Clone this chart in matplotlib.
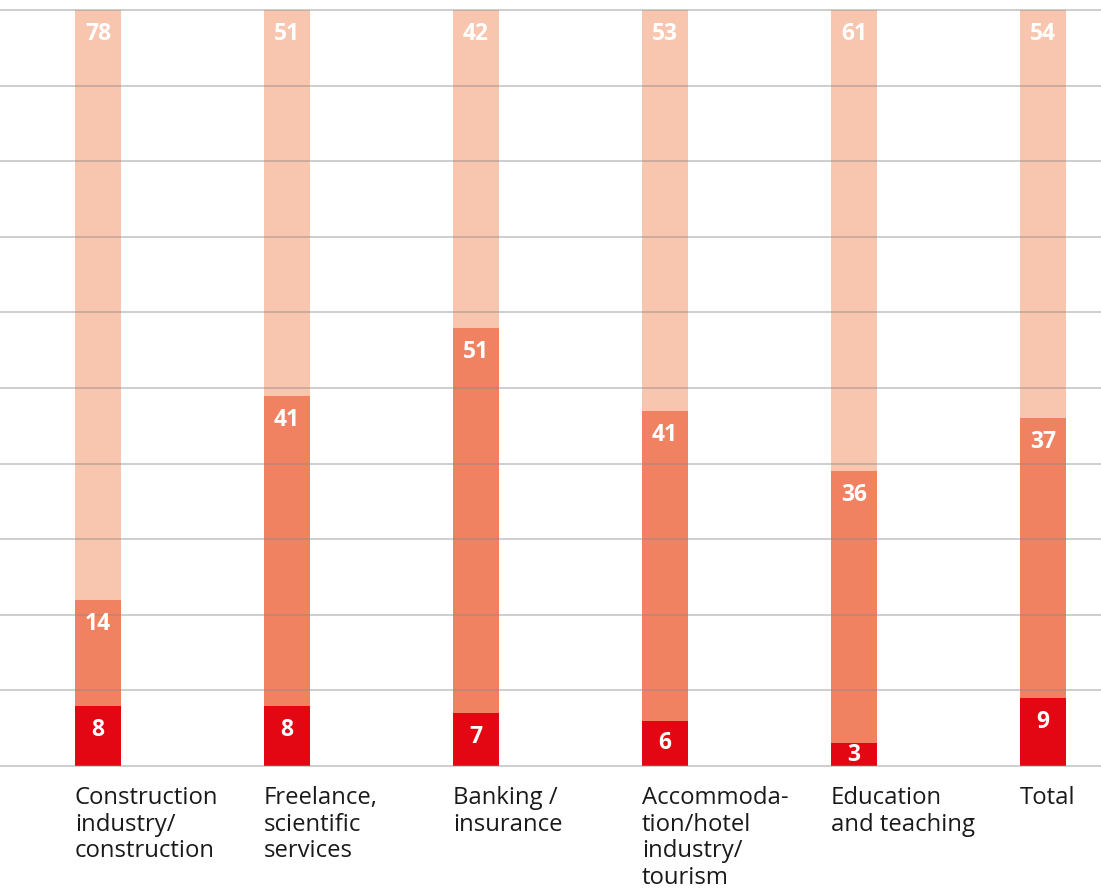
import matplotlib
matplotlib.use("Agg")
import matplotlib.pyplot as plt

categories = [
    "Construction\nindustry/\nconstruction",
    "Freelance,\nscientific\nservices",
    "Banking /\ninsurance",
    "Accommoda-\ntion/hotel\nindustry/\ntourism",
    "Education\nand teaching",
    "Total",
]
bottom_vals = [8, 8, 7, 6, 3, 9]
middle_vals = [14, 41, 51, 41, 36, 37]
top_vals = [78, 51, 42, 53, 61, 54]
grid_ticks = list(range(0, 101, 10))

colors = ["#E30613", "#F08262", "#F8C5AF"]

W, H = 1101, 889
fig = plt.figure(figsize=(W / 100, H / 100), dpi=100)
ax_bottom_px, ax_top_px = 766, 10
ax = fig.add_axes([0, (H - ax_bottom_px) / H, 1, (ax_bottom_px - ax_top_px) / H])

first_center, step, bar_px = 98, 189, 46
ax.set_xlim(-first_center / step, (W - first_center) / step)
ax.set_ylim(0, 100)
width = bar_px / step

xs = list(range(len(categories)))
base = [0] * len(xs)
px_per_unit = (ax_bottom_px - ax_top_px) / 100
label_offset = 24 / px_per_unit
for series, col in zip([bottom_vals, middle_vals, top_vals], colors):
    ax.bar(xs, series, width=width, bottom=base, color=col, linewidth=0, zorder=1)
    for x, b, v in zip(xs, base, series):
        # value sits near the top of its segment, or centred when the segment is short
        off = min(label_offset, v / 2)
        ax.text(x, b + v - off, str(v), ha="center", va="center",
                color="white", fontsize=16.5, fontweight="bold",
                family="Open Sans", zorder=3)
    base = [b + v for b, v in zip(base, series)]

for t in grid_ticks:
    ax.axhline(t, color="#8a8a8a", alpha=0.45, linewidth=1.3, zorder=2, clip_on=False)

for x, lab in zip(xs, categories):
    ax.text(x - width / 2, -2.6, lab, ha="left", va="top", fontsize=17.2,
            family="Open Sans", color="#1a1a1a", linespacing=1.16)

ax.axis("off")
fig.savefig("out.png", dpi=100)
